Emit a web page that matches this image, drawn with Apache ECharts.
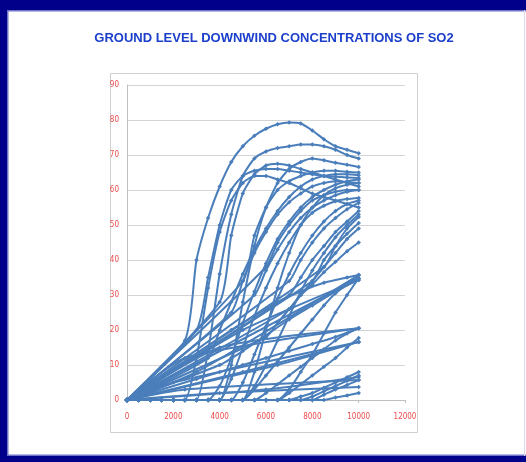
<!DOCTYPE html>
<html>
<head>
<meta charset="utf-8">
<script src="https://cdn.jsdelivr.net/npm/echarts@6/dist/echarts.min.js"></script>
<style>
html,body{margin:0;padding:0;background:#fff;}
#c{width:526px;height:462px;}
</style>
</head>
<body>
<div id="c"></div>
<script>
// Downwind distance (m) at which each series is sampled
const distances = [0,500,1000,1500,2000,2500,3000,3500,4000,4500,5000,5500,6000,6500,7000,7500,8000,8500,9000,9500,10000];
const xTicks = [0,2000,4000,6000,8000,10000,12000];
const yTicks = [0,10,20,30,40,50,60,70,80,90];
const titleText = 'GROUND LEVEL DOWNWIND CONCENTRATIONS OF SO2';

// Ground level concentrations (null = no value at that distance)
const conc01 = [0,null,null,null,null,17,40,52,61,68,72.5,75.5,77.5,78.8,79.3,79,77,74.5,72.5,71.5,70.5];
const conc02 = [0,null,null,null,null,null,20,35,50,60,64,65.5,66,66,65.5,65,64.5,64,63.8,63.6,63.4];
const conc03 = [0,0,0,0,0,0,0,14,36,53,64,69,71,72,72.5,73,73,72.5,71.5,70,69];
const conc04 = [0,null,null,null,null,null,null,null,28,47,59,64.5,67,67.5,67,66,65,64,63,62,61];
const conc05 = [0,0,0,0,0,0,0,0,0,10,28,44,55,62,66,68,69,68.5,67.8,67.2,66.6];
const conc06 = [0,null,null,null,null,null,null,null,null,null,34,47,55,60,62.5,64,65,65.5,65.5,65.2,65];
const conc07 = [0,0,0,0,0,0,0,0,0,0,0,8,20,32,42,50,55,58.5,60.5,61.5,62];
const conc08 = [0,null,null,null,null,null,null,null,null,null,null,null,38,45,50,54,57,58.5,59.5,60,60];
const conc09 = [0,0,0,0,0,0,0,0,0,6,15,24,32,39,45,50,53.5,55.5,56.8,57.4,57.7];
const conc10 = [0,null,null,null,null,null,null,null,null,null,null,null,null,null,34,40,45,49,52,54.5,56.3];
const conc11 = [0,0,0,0,0,0,12,32,48,57,62,64,64,63,62,60.5,59,58,57,56,55];
const conc12 = [0,null,null,null,null,null,null,null,null,null,null,null,null,null,null,null,34,40,44,47.5,50.6];
const conc13 = [0,null,null,null,null,null,null,null,null,null,null,null,null,null,null,null,null,38,44,49,52.3];
const conc14 = [0,null,null,null,null,null,null,null,null,null,null,null,18,22,26,30,33,36.5,39.5,42.5,45];
const conc15 = [0,0,0,0,0,0,0,0,0,0,0,3,7,11,15,19,23,27,30.5,33,35.7];
const conc16 = [0,null,null,null,null,null,null,null,10,null,14,null,18.5,null,23,null,27,null,31,null,34.3];
const conc17 = [0,null,null,null,null,null,6,null,8,null,10,null,12,null,14,null,16,null,18,null,20.5];
const conc18 = [0,0,0,0,0,0,0,0,0,0,0,0,0,0,2,4.5,7,9.5,12,15,17.7];
const conc19 = [0,null,null,null,null,null,null,null,null,null,8,null,null,null,null,null,null,null,null,null,16.6];
const conc20 = [0,0,0,0,0,0,0,0,0,0,0,0,0,0,0,1,2,3.5,5,6.5,8];
const conc21 = [0,null,null,null,null,null,null,null,null,null,null,null,3,null,null,null,null,null,null,null,6.6];
const conc22 = [0,0,0,0,0,0,0,0,0,0,0,0,0,0,0,0,0,1.5,3,4.3,5.7];
const conc23 = [0,null,null,null,null,null,null,null,2,null,null,null,null,null,null,null,null,null,null,null,3.7];
const conc24 = [0,0,0,0,0,0,0,0,0,0,0,0,0,0,0,0,0,0,0.7,1.3,2];
const conc25 = [0,null,null,null,null,null,null,null,null,null,null,null,null,null,null,null,null,null,null,null,34.8];
const conc26 = [0,null,null,null,null,null,null,null,null,null,null,null,null,null,26,30,34,38,42,46,49];
const conc27 = [0,null,null,null,null,null,null,null,null,20,null,24,null,28,null,31,null,33.5,null,35,35.7];
const conc28 = [0,null,null,null,null,12,null,null,null,null,null,null,null,null,null,null,null,null,null,null,20.5];
const conc29 = [0,null,null,null,5,null,null,null,null,null,null,null,null,null,null,null,null,null,null,null,16.6];
const conc30 = [0,0,0,0,0,0,0,0,4,12,22,31,39,46,51,55,58,60,61.5,62.5,63];
const conc31 = [0,0,0,0,0,0,0,0,0,0,5,13,21,29,36,42,47,51,54,56,57];
const conc32 = [0,0,0,0,0,0,0,0,0,0,0,4,10,17,24,31,37,42,46.5,50,53];
const conc33 = [0,null,null,null,null,null,null,null,null,null,null,30,37,43,48,52,55,57,58.5,59.5,60];
const conc34 = [0,null,null,null,null,null,null,null,null,null,null,null,null,null,30,35,40,44,48,51,54];
const conc35 = [0,0,0,0,0,0,0,0,0,0,0,0,0,0,3,8,13,19,25,30,34.8];
const conc36 = [0,null,null,null,null,null,null,12,20,28,36,43,49,54,58,61,63,64,64.5,64.5,64.2];
const conc37 = [0,null,null,null,null,null,null,null,null,25,34,42,48,53,56.5,59,61,62,62.5,62.3,62];
const conc38 = [0,null,null,null,null,null,null,null,null,null,null,null,null,10,null,null,null,null,null,null,16.6];
const conc39 = [0,null,null,null,null,null,null,null,15,null,null,null,null,null,null,null,null,null,null,null,20.5];
const conc40 = [0,0,0,0,0,0,0,0,0,0,0,0,2,4.5,7,9.5,12,14.5,17,19,20.5];
const conc41 = [0,null,null,null,null,3,null,null,null,null,null,null,null,null,null,null,null,null,null,null,5.7];
const conc42 = [0,0,0,0,0,0,0,0,0,0,0,0,0,0,0,0,1,2.5,4,5.5,7];
const conc43 = [0,null,null,null,null,null,8,null,null,null,null,null,null,null,null,null,null,null,null,null,35.7];
const conc44 = [0,null,null,null,null,null,null,null,null,null,20,null,null,null,null,null,null,null,null,null,34.3];

const allConc = [conc01,conc02,conc03,conc04,conc05,conc06,conc07,conc08,conc09,conc10,
  conc11,conc12,conc13,conc14,conc15,conc16,conc17,conc18,conc19,conc20,
  conc21,conc22,conc23,conc24,conc25,conc26,conc27,conc28,conc29,conc30,
  conc31,conc32,conc33,conc34,conc35,conc36,conc37,conc38,conc39,conc40,
  conc41,conc42,conc43,conc44];

const lineBlue = '#4A7EBB';
const labelRed = '#EE4B4B';
const labelFont = '"Liberation Sans Narrow","DejaVu Sans Condensed",sans-serif';

const series = allConc.map((vals, k) => ({
  type: 'line',
  name: 'S' + (k + 1),
  data: distances.map((d, i) => [d, vals[i]]).filter(p => p[1] !== null),
  symbol: 'diamond',
  symbolSize: 4.5,
  showSymbol: true,
  lineStyle: { color: lineBlue, width: 2 },
  itemStyle: { color: lineBlue },
  smooth: 0.2,
  animation: false,
  silent: true
}));

const chart = echarts.init(document.getElementById('c'), null, { renderer: 'canvas', width: 526, height: 462 });
chart.setOption({
  backgroundColor: '#ffffff',
  animation: false,
  grid: { left: 127, top: 85, width: 278, height: 315, containLabel: false },
  xAxis: {
    type: 'value', min: xTicks[0], max: xTicks[xTicks.length - 1], interval: 2000,
    axisLine: { show: true, lineStyle: { color: '#BFBFBF', width: 1 } },
    axisTick: { show: true, length: 3, lineStyle: { color: '#BFBFBF' } },
    splitLine: { show: false },
    axisLabel: { color: labelRed, fontSize: 8, fontFamily: labelFont, margin: 13, formatter: v => String(v) }
  },
  yAxis: {
    type: 'value', min: yTicks[0], max: yTicks[yTicks.length - 1], interval: 10,
    axisLine: { show: true, lineStyle: { color: '#BFBFBF', width: 1 } },
    axisTick: { show: false },
    splitLine: { show: true, lineStyle: { color: '#D4D4D4', width: 1 } },
    axisLabel: { color: labelRed, fontSize: 8, fontFamily: labelFont, margin: 8, formatter: v => String(v) }
  },
  graphic: [
    { type: 'rect', shape: { x: 110.5, y: 73.5, width: 307, height: 359 }, style: { fill: 'none', stroke: '#D0D0D0', lineWidth: 1 }, z: -1 },
    { type: 'rect', shape: { x: 0, y: 0, width: 526, height: 10 }, style: { fill: '#00008B' } },
    { type: 'rect', shape: { x: 0, y: 10, width: 526, height: 1.5 }, style: { fill: '#6F74C8' } },
    { type: 'rect', shape: { x: 0, y: 0, width: 7, height: 462 }, style: { fill: '#00008B' } },
    { type: 'rect', shape: { x: 7, y: 10, width: 1.5, height: 446 }, style: { fill: '#6F74C8' } },
    { type: 'rect', shape: { x: 0, y: 456, width: 526, height: 6 }, style: { fill: '#00008B' } },
    { type: 'rect', shape: { x: 7, y: 454.5, width: 519, height: 1.5 }, style: { fill: '#6F74C8' } },
    { type: 'rect', shape: { x: 524, y: 10, width: 1, height: 446 }, style: { fill: '#DADAE8' } },
    { type: 'text', x: 274, y: 38, style: { text: titleText, fill: '#1B3FCB', font: 'bold 13px "Liberation Sans", Arial, sans-serif', textAlign: 'center', textVerticalAlign: 'middle' } }
  ],
  series: series
});
</script>
</body>
</html>
